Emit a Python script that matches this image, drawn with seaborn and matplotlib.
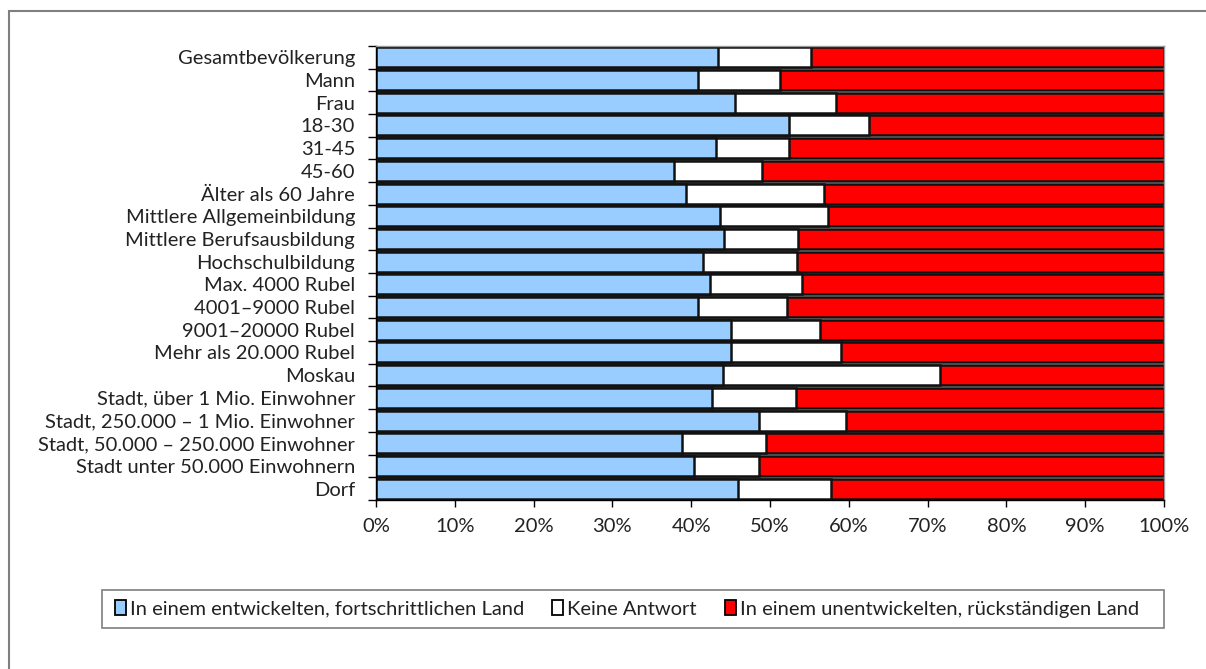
import matplotlib
matplotlib.use("Agg")
import matplotlib.pyplot as plt
import seaborn as sns
import pandas as pd
from matplotlib.patches import Patch, Rectangle
from matplotlib.ticker import FixedLocator, FuncFormatter

categories = [
    "Gesamtbevölkerung", "Mann", "Frau", "18-30", "31-45", "45-60",
    "Älter als 60 Jahre", "Mittlere Allgemeinbildung", "Mittlere Berufsausbildung",
    "Hochschulbildung", "Max. 4000 Rubel", "4001–9000 Rubel", "9001–20000 Rubel",
    "Mehr als 20.000 Rubel", "Moskau", "Stadt, über 1 Mio. Einwohner",
    "Stadt, 250.000 – 1 Mio. Einwohner", "Stadt, 50.000 – 250.000 Einwohner",
    "Stadt unter 50.000 Einwohnern", "Dorf",
]
entwickelt = [43.4, 40.8, 45.6, 52.4, 43.2, 37.8, 39.4, 43.7, 44.1, 41.5,
              42.4, 40.8, 45.0, 45.0, 44.0, 42.6, 48.6, 38.8, 40.4, 46.0]
keine_antwort = [11.8, 10.5, 12.8, 10.2, 9.2, 11.2, 17.5, 13.6, 9.5, 11.9,
                 11.6, 11.3, 11.3, 14.0, 27.6, 10.7, 11.0, 10.7, 8.2, 11.7]
unentwickelt = [44.8, 48.7, 41.6, 37.4, 47.6, 51.0, 43.1, 42.7, 46.4, 46.6,
                46.0, 47.9, 43.7, 41.0, 28.4, 46.7, 40.4, 50.5, 51.4, 42.3]
series_names = ["In einem entwickelten, fortschrittlichen Land", "Keine Antwort",
                "In einem unentwickelten, rückständigen Land"]
x_ticks = [0, 10, 20, 30, 40, 50, 60, 70, 80, 90, 100]

colors = ["#99ccff", "#ffffff", "#ff0000"]

sns.set_theme(style="white")
plt.rcParams["font.family"] = ["Lato", "DejaVu Sans"]

df = pd.DataFrame({
    "cat": categories,
    "blue": entwickelt,
    "none": keine_antwort,
    "red": unentwickelt,
})
df["end_none"] = df["blue"] + df["none"]
df["end_red"] = df["end_none"] + df["red"]

fig = plt.figure(figsize=(12.06, 6.69), dpi=100)
ax = fig.add_axes([376/1206, 1-500/669, 788/1206, 454/669])

for col, c in [("end_red", colors[2]), ("end_none", colors[1]), ("blue", colors[0])]:
    sns.barplot(data=df, x=col, y="cat", order=categories, orient="y",
                color=c, saturation=1, edgecolor="#111111", linewidth=1.8,
                width=0.88, errorbar=None, ax=ax)

ax.set_xlim(0, 100)
ax.set_ylim(len(categories) - 0.5, -0.5)
ax.set_xlabel("")
ax.set_ylabel("")
ax.xaxis.set_major_locator(FixedLocator(x_ticks))
ax.xaxis.set_major_formatter(FuncFormatter(lambda v, p: f"{int(v)}%"))
ax.tick_params(axis="x", which="major", direction="out", length=5, width=1,
               color="black", labelsize=14.5, pad=8, bottom=True)
ax.set_yticks(range(len(categories)))
ax.set_yticklabels(categories)
ax.tick_params(axis="y", which="major", length=0, labelsize=14.5, pad=15)
ax.yaxis.set_minor_locator(FixedLocator([i - 0.5 for i in range(len(categories) + 1)]))
ax.tick_params(axis="y", which="minor", direction="out", length=6, width=1,
               color="black", left=True)
for t in ax.get_xticklabels() + ax.get_yticklabels():
    t.set_color("#222222")

for s in ["left", "bottom"]:
    ax.spines[s].set_color("black")
    ax.spines[s].set_linewidth(1)
for s in ["top", "right"]:
    ax.spines[s].set_color("#999999")
    ax.spines[s].set_linewidth(1)
ax.grid(False)

# outer frame
fig.patches.append(Rectangle((9/1206, -0.1), 1.2, 1.1 - 11/669, transform=fig.transFigure,
                             fill=False, edgecolor="#7f7f7f", linewidth=1.5, zorder=0))
# legend box
fig.patches.append(Rectangle((102/1206, 1-628/669), 1062/1206, 38/669, transform=fig.transFigure,
                             fill=False, edgecolor="#7f7f7f", linewidth=1.2, zorder=0))

handles = [Patch(facecolor=c, edgecolor="black", linewidth=1.3) for c in colors]
fig.legend(handles, series_names, loc="center", bbox_to_anchor=(627/1206, 1-609/669),
           ncol=3, frameon=False, fontsize=14.5, handlelength=0.55, handleheight=0.75,
           handletextpad=0.2, columnspacing=1.4, labelcolor="#222222")

fig.savefig("out.png", dpi=100)
